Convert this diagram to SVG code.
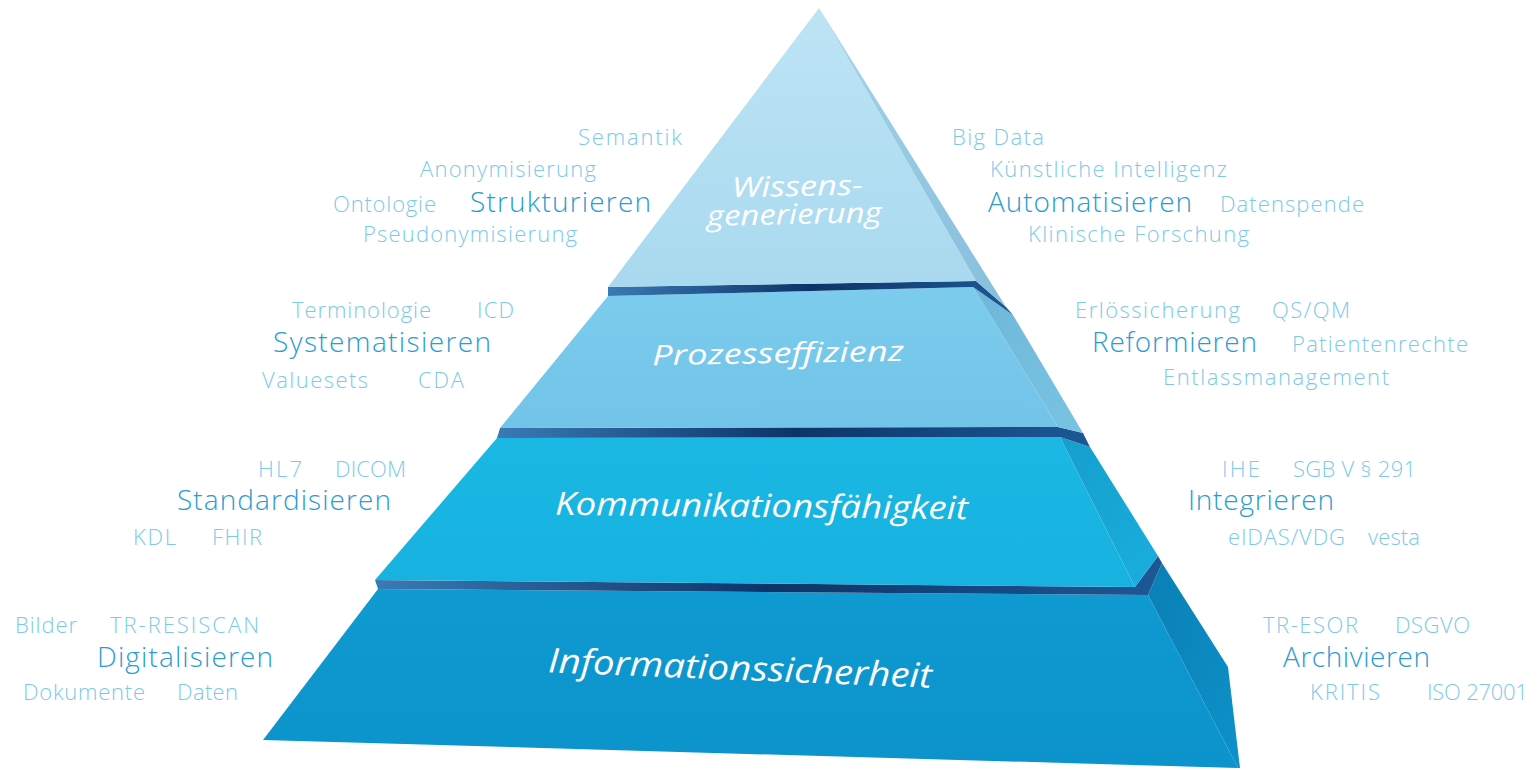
<svg xmlns="http://www.w3.org/2000/svg" width="1540" height="770" viewBox="0 0 1540 770">
  <defs>
    <style>
      .kw { font-family: "Open Sans", "Liberation Sans", sans-serif; font-size: 22px; fill: #7cc9e8; font-weight: 300; }
      .main { font-family: "Open Sans", "Liberation Sans", sans-serif; font-size: 28px; fill: #2b9cd0; font-weight: 300; }
      .tier { font-family: "Open Sans", "Liberation Sans", sans-serif; font-style: italic; fill: #ffffff; font-weight: 400; }
    </style>
    <linearGradient id="g1f" x1="0" y1="0" x2="0" y2="1">
      <stop offset="0" stop-color="#bde4f5"/>
      <stop offset="1" stop-color="#a9d9ef"/>
    </linearGradient>
    <linearGradient id="g1s" x1="0" y1="0" x2="1" y2="1">
      <stop offset="0" stop-color="#a6d4ea"/>
      <stop offset="1" stop-color="#86bedb"/>
    </linearGradient>
    <linearGradient id="g2f" x1="0" y1="0" x2="0" y2="1">
      <stop offset="0" stop-color="#7ccced"/>
      <stop offset="1" stop-color="#71c4e8"/>
    </linearGradient>
    <linearGradient id="g2s" x1="0" y1="0" x2="1" y2="1">
      <stop offset="0" stop-color="#6fb7d8"/>
      <stop offset="1" stop-color="#78c3e3"/>
    </linearGradient>
    <linearGradient id="g3f" x1="0" y1="0" x2="0" y2="1">
      <stop offset="0" stop-color="#1bb8e4"/>
      <stop offset="1" stop-color="#17b2e0"/>
    </linearGradient>
    <linearGradient id="g3s" x1="0" y1="0" x2="1" y2="1">
      <stop offset="0" stop-color="#159fcc"/>
      <stop offset="1" stop-color="#1aaedd"/>
    </linearGradient>
    <linearGradient id="g4f" x1="0" y1="0" x2="0" y2="1">
      <stop offset="0" stop-color="#0f9ad1"/>
      <stop offset="1" stop-color="#0c93cc"/>
    </linearGradient>
    <linearGradient id="g4s" x1="0" y1="0" x2="1" y2="1">
      <stop offset="0" stop-color="#0a7fb5"/>
      <stop offset="1" stop-color="#0d92c9"/>
    </linearGradient>
    <linearGradient id="gband" x1="0" y1="0" x2="1" y2="0">
      <stop offset="0" stop-color="#3a7ab5"/>
      <stop offset="0.5" stop-color="#0d3468"/>
      <stop offset="1" stop-color="#1d5896"/>
    </linearGradient>
  </defs>

  <g id="pyramid">
    <g id="tier4">
      <polygon points="378,589 1148,595 1238,768 263,740" fill="url(#g4f)"/>
      <polygon points="1148,595 1162,563 1228,667 1240,768 1238,768" fill="url(#g4s)"/>
      <text class="tier" font-size="34" x="548" y="680" textLength="384" lengthAdjust="spacingAndGlyphs" transform="rotate(2.3 740 672)">Informationssicherheit</text>
    </g>
    <polygon id="band3" points="375,580 1135,587 1158,556 1162,563 1148,595 378,589" fill="url(#gband)"/>
    <g id="tier3">
      <polygon points="497,438 1060,437 1135,587 375,580" fill="url(#g3f)"/>
      <polygon points="1060,437 1090,447 1158,556 1135,587" fill="url(#g3s)"/>
      <text class="tier" font-size="32" x="555" y="517" textLength="413" lengthAdjust="spacingAndGlyphs" transform="rotate(0.6 760 508)">Kommunikationsfähigkeit</text>
    </g>
    <polygon id="band2" points="500,428 1058,427 1083,433 1090,447 1060,437 497,438" fill="url(#gband)"/>
    <g id="tier2">
      <polygon points="608,296 973,287 1058,427 500,428" fill="url(#g2f)"/>
      <polygon points="973,287 1013,315 1083,433 1058,427" fill="url(#g2s)"/>
      <text class="tier" font-size="28" x="652" y="363" textLength="252" lengthAdjust="spacingAndGlyphs" transform="rotate(-1 778 355)">Prozesseffizienz</text>
    </g>
    <polygon id="band1" points="608,287 976,281 1006,307 1013,315 973,287 608,296" fill="url(#gband)"/>
    <g id="tier1">
      <polygon points="819,8 608,287 976,281" fill="url(#g1f)"/>
      <polygon points="819,8 976,281 1006,307" fill="url(#g1s)"/>
      <text class="tier" font-size="28" x="732" y="196" textLength="131" lengthAdjust="spacingAndGlyphs" transform="rotate(-1.2 797 196)">Wissens-</text>
      <text class="tier" font-size="28" x="707" y="224" textLength="175" lengthAdjust="spacingAndGlyphs" transform="rotate(-1.2 795 224)">generierung</text>
    </g>
  </g>

  <g id="labels-top-left">
    <text class="kw" x="578" y="145" textLength="104" lengthAdjust="spacing">Semantik</text>
    <text class="kw" x="420" y="177" textLength="176" lengthAdjust="spacing">Anonymisierung</text>
    <text class="kw" x="333" y="212" textLength="103" lengthAdjust="spacing">Ontologie</text>
    <text class="main" x="470" y="212" textLength="181" lengthAdjust="spacing">Strukturieren</text>
    <text class="kw" x="363" y="242" textLength="214" lengthAdjust="spacing">Pseudonymisierung</text>
  </g>
  <g id="labels-top-right">
    <text class="kw" x="952" y="145" textLength="92" lengthAdjust="spacing">Big Data</text>
    <text class="kw" x="990" y="177" textLength="237" lengthAdjust="spacing">Künstliche Intelligenz</text>
    <text class="main" x="988" y="212" textLength="204" lengthAdjust="spacing">Automatisieren</text>
    <text class="kw" x="1220" y="212" textLength="144" lengthAdjust="spacing">Datenspende</text>
    <text class="kw" x="1028" y="242" textLength="221" lengthAdjust="spacing">Klinische Forschung</text>
  </g>
  <g id="labels-mid-left">
    <text class="kw" x="292" y="318" textLength="139" lengthAdjust="spacing">Terminologie</text>
    <text class="kw" x="477" y="318" textLength="37" lengthAdjust="spacing">ICD</text>
    <text class="main" x="273" y="352" textLength="218" lengthAdjust="spacing">Systematisieren</text>
    <text class="kw" x="262" y="388" textLength="106" lengthAdjust="spacing">Valuesets</text>
    <text class="kw" x="418" y="388" textLength="46" lengthAdjust="spacing">CDA</text>
  </g>
  <g id="labels-mid-right">
    <text class="kw" x="1075" y="318" textLength="165" lengthAdjust="spacing">Erlössicherung</text>
    <text class="kw" x="1272" y="318" textLength="78" lengthAdjust="spacing">QS/QM</text>
    <text class="main" x="1092" y="352" textLength="165" lengthAdjust="spacing">Reformieren</text>
    <text class="kw" x="1292" y="352" textLength="176" lengthAdjust="spacing">Patientenrechte</text>
    <text class="kw" x="1163" y="385" textLength="226" lengthAdjust="spacing">Entlassmanagement</text>
  </g>
  <g id="labels-low-left">
    <text class="kw" x="258" y="477" textLength="44" lengthAdjust="spacing">HL7</text>
    <text class="kw" x="335" y="477" textLength="71" lengthAdjust="spacing">DICOM</text>
    <text class="main" x="177" y="510" textLength="214" lengthAdjust="spacing">Standardisieren</text>
    <text class="kw" x="133" y="545" textLength="43" lengthAdjust="spacing">KDL</text>
    <text class="kw" x="212" y="545" textLength="50" lengthAdjust="spacing">FHIR</text>
  </g>
  <g id="labels-low-right">
    <text class="kw" x="1222" y="477" textLength="38" lengthAdjust="spacing">IHE</text>
    <text class="kw" x="1293" y="477" textLength="123" lengthAdjust="spacing">SGB V § 291</text>
    <text class="main" x="1188" y="510" textLength="146" lengthAdjust="spacing">Integrieren</text>
    <text class="kw" x="1228" y="545" textLength="117" lengthAdjust="spacing">eIDAS/VDG</text>
    <text class="kw" x="1368" y="545" textLength="52" lengthAdjust="spacing">vesta</text>
  </g>
  <g id="labels-base-left">
    <text class="kw" x="15" y="633" textLength="62" lengthAdjust="spacing">Bilder</text>
    <text class="kw" x="110" y="633" textLength="149" lengthAdjust="spacing">TR-RESISCAN</text>
    <text class="main" x="97" y="667" textLength="176" lengthAdjust="spacing">Digitalisieren</text>
    <text class="kw" x="23" y="700" textLength="122" lengthAdjust="spacing">Dokumente</text>
    <text class="kw" x="177" y="700" textLength="61" lengthAdjust="spacing">Daten</text>
  </g>
  <g id="labels-base-right">
    <text class="kw" x="1263" y="633" textLength="95" lengthAdjust="spacing">TR-ESOR</text>
    <text class="kw" x="1395" y="633" textLength="75" lengthAdjust="spacing">DSGVO</text>
    <text class="main" x="1283" y="667" textLength="147" lengthAdjust="spacing">Archivieren</text>
    <text class="kw" x="1310" y="700" textLength="70" lengthAdjust="spacing">KRITIS</text>
    <text class="kw" x="1427" y="700" textLength="101" lengthAdjust="spacing">ISO 27001</text>
  </g>
</svg>
